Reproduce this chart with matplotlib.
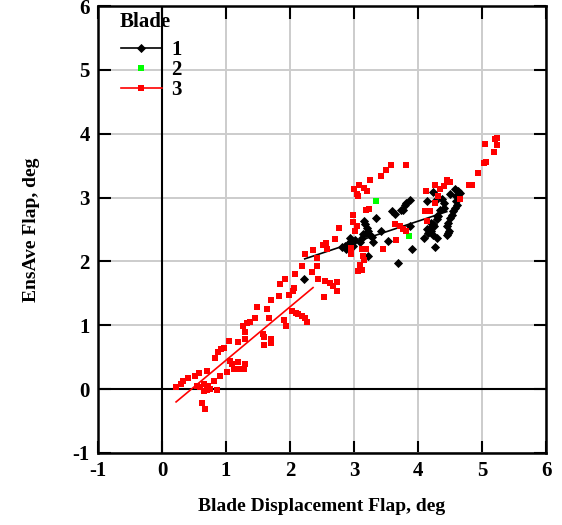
import matplotlib
matplotlib.use("Agg")
import matplotlib.pyplot as plt
from matplotlib.lines import Line2D
import numpy as np

plt.rcParams['font.family'] = ['Liberation Serif', 'DejaVu Serif']
plt.rcParams['font.weight'] = 'bold'

# ---- data ----
blade1_x = [2.22, 2.81, 2.86, 2.91, 2.96, 2.94, 3.02, 2.99, 2.88, 2.93,
            3.12, 3.14, 3.15, 3.17, 3.20, 3.22, 3.25, 3.28, 3.18, 3.22, 3.30, 3.10,
            3.34, 3.42, 3.53, 3.59, 3.64, 3.73, 3.80, 3.88, 3.82, 3.76,
            3.69, 3.90, 3.88,
            4.23, 4.14, 4.27, 4.37, 4.50, 4.58, 4.63, 4.66, 4.59, 4.60, 4.61, 4.58,
            4.55, 4.53, 4.50, 4.47, 4.45, 4.49, 4.45, 4.41, 4.40, 4.32, 4.29, 4.23,
            4.19, 4.14, 4.16, 4.21, 4.23, 4.29, 4.09, 4.26, 4.25, 4.20, 4.29, 4.35, 4.47]
blade1_y = [1.73, 2.22, 2.24, 2.27, 2.32, 2.37, 2.34, 2.24, 2.20, 2.28,
            2.37, 2.43, 2.63, 2.58, 2.53, 2.47, 2.42, 2.38, 2.45, 2.08, 2.30, 2.30,
            2.68, 2.47, 2.32, 2.79, 2.75, 2.80, 2.89, 2.96, 2.91, 2.81,
            1.98, 2.19, 2.56,
            3.08, 2.94, 2.94, 2.97, 3.06, 3.13, 3.11, 3.07, 3.02, 2.95, 2.89, 2.84,
            2.79, 2.73, 2.68, 2.60, 2.55, 2.47, 2.42, 2.91, 2.84, 2.71, 2.66, 2.58,
            2.53, 2.50, 2.45, 2.47, 2.42, 2.37, 2.37, 2.23, 2.55, 2.60, 2.71, 2.80, 2.45]

blade2_x = [3.35, 3.86]
blade2_y = [2.94, 2.40]

blade3_x = [0.22, 0.30, 0.33, 0.40, 0.51, 0.58, 0.70,
            0.54, 0.59, 0.65, 0.72, 0.71, 0.66, 0.75, 0.86,
            0.82, 0.91, 0.62, 0.67,
            0.83, 0.87, 0.92, 0.97, 1.04,
            1.06, 1.10, 1.02, 1.13, 1.18, 1.22, 1.30, 1.28,
            1.18, 1.30, 1.30, 1.27, 1.33, 1.38, 1.45, 1.48,
            1.58, 1.59, 1.59, 1.71, 1.71,
            1.64, 1.67, 1.71, 1.83, 1.84, 1.92, 1.90, 1.93,
            1.99, 2.05, 2.07, 2.08, 2.03, 2.09, 2.13, 2.18, 2.23, 2.26,
            2.18, 2.24, 2.36, 2.42, 2.42, 2.34, 2.43,
            2.53, 2.55, 2.63, 2.67, 2.73, 2.74,
            2.52, 2.57, 2.58, 2.70, 2.76,
            2.98, 2.98, 3.02, 3.05,
            3.00, 3.08, 3.04, 3.07, 3.16, 3.21, 3.25,
            3.19, 3.23, 3.42, 3.50, 3.58, 3.82,
            2.96, 2.96, 3.12, 3.19, 3.14, 3.16, 3.10, 3.12, 3.07,
            3.45, 3.66, 3.64, 3.72, 3.77, 3.82,
            5.05, 5.20, 5.23, 5.23, 5.18, 5.06, 5.03, 4.94, 4.85, 4.80,
            4.45, 4.50, 4.40, 4.34, 4.27, 4.13, 4.32, 4.66, 4.27, 4.11, 4.18, 4.14]
blade3_y = [0.03, 0.08, 0.13, 0.17, 0.21, 0.25, 0.29,
            0.05, 0.03, 0.08, 0.05, -0.02, -0.03, 0.00, -0.01,
            0.13, 0.21, -0.21, -0.31,
            0.48, 0.58, 0.63, 0.65, 0.75,
            0.44, 0.39, 0.27, 0.31, 0.42, 0.32, 0.39, 0.32,
            0.74, 0.78, 0.89, 0.99, 1.03, 1.05, 1.12, 1.28,
            0.86, 0.81, 0.69, 0.78, 0.72,
            1.26, 1.12, 1.40, 1.46, 1.65, 1.72, 1.09, 0.99,
            1.48, 1.54, 1.59, 1.80, 1.22, 1.20, 1.17, 1.15, 1.12, 1.05,
            1.93, 2.11, 2.18, 2.06, 1.93, 1.83, 1.73,
            1.44, 1.69, 1.67, 1.61, 1.54, 1.68,
            2.25, 2.29, 2.19, 2.35, 2.53,
            2.72, 2.61, 2.47, 2.56,
            3.14, 3.20, 3.05, 3.02, 3.15, 3.10, 3.27,
            2.81, 2.82, 3.34, 3.43, 3.51, 3.51,
            2.11, 2.21, 2.20, 2.20, 2.09, 2.03, 1.95, 1.86, 1.85,
            2.20, 2.34, 2.58, 2.56, 2.50, 2.47,
            3.84, 3.91, 3.93, 3.83, 3.72, 3.55, 3.54, 3.38, 3.19, 3.19,
            3.28, 3.24, 3.18, 3.14, 3.19, 3.11, 3.03, 2.98, 2.91, 2.79, 2.79, 2.63]

fit1_x = [2.23, 4.45]
fit1_y = [2.04, 2.78]
fit3_x = [0.22, 2.36]
fit3_y = [-0.20, 1.59]

ticks = [-1, 0, 1, 2, 3, 4, 5, 6]
tick_labels = ['-1', '0', '1', '2', '3', '4', '5', '6']
legend_title = 'Blade'
legend_labels = ['1', '2', '3']

# ---- figure ----
fig = plt.figure(figsize=(5.62, 5.25), dpi=100)
ax = fig.add_axes([98/562, 72/525, 448/562, 447/525])

ax.set_xlim(-1, 6)
ax.set_ylim(-1, 6)
ax.set_xticks(ticks)
ax.set_yticks(ticks)
ax.set_xticklabels(tick_labels)
ax.set_yticklabels(tick_labels)
ax.grid(True, color='#cccccc', linewidth=1.4, zorder=0)
ax.set_axisbelow(True)
ax.axhline(0, color='black', linewidth=1.5, zorder=1)
ax.axvline(0, color='black', linewidth=1.5, zorder=1)

ax.tick_params(direction='in', length=9, width=1.5, top=True, right=True,
               labelsize=15, pad=6)
for lab in ax.get_xticklabels() + ax.get_yticklabels():
    lab.set_fontweight('bold')
for sp in ax.spines.values():
    sp.set_linewidth(1.8)

ms_sq = 4.4
ms_d = 4.2
ax.plot(blade1_x, blade1_y, linestyle='none', marker='D', color='black',
        markersize=ms_d, markeredgewidth=0.6, zorder=3)
ax.plot(fit1_x, fit1_y, color='black', linewidth=1.2, zorder=3)
ax.plot(blade2_x, blade2_y, linestyle='none', marker='s', color='#00ff00',
        markersize=ms_sq, markeredgewidth=0, zorder=3)
ax.plot(blade3_x, blade3_y, linestyle='none', marker='s', color='red',
        markersize=ms_sq, markeredgewidth=0, zorder=4)
ax.plot(fit3_x, fit3_y, color='red', linewidth=1.2, zorder=4)

handles = [
    Line2D([], [], color='black', marker='D', markersize=ms_d, markeredgewidth=0.6, linewidth=1.2),
    Line2D([], [], color='#00ff00', marker='s', markersize=ms_sq, markeredgewidth=0, linestyle='none'),
    Line2D([], [], color='red', marker='s', markersize=ms_sq, markeredgewidth=0, linewidth=1.2),
]
leg = ax.legend(handles, legend_labels, loc='upper left',
                frameon=False, fontsize=15,
                handlelength=1.95, handletextpad=0.45, labelspacing=0.0,
                borderpad=0, borderaxespad=0,
                bbox_to_anchor=((121 - 98) / 448, (453 - 40) / 447))
for t in leg.get_texts():
    t.set_fontweight('bold')
ax.text((120 - 98) / 448, (453 - 22) / 447, legend_title, transform=ax.transAxes,
        fontsize=15, fontweight='bold', ha='left', va='center', zorder=5)

ax.set_xlabel('Blade Displacement Flap, deg', fontsize=14, fontweight='bold',
              labelpad=12)
ax.set_ylabel('EnsAve Flap, deg', fontsize=14, fontweight='bold', labelpad=23)

fig.savefig('out.png', dpi=100)
